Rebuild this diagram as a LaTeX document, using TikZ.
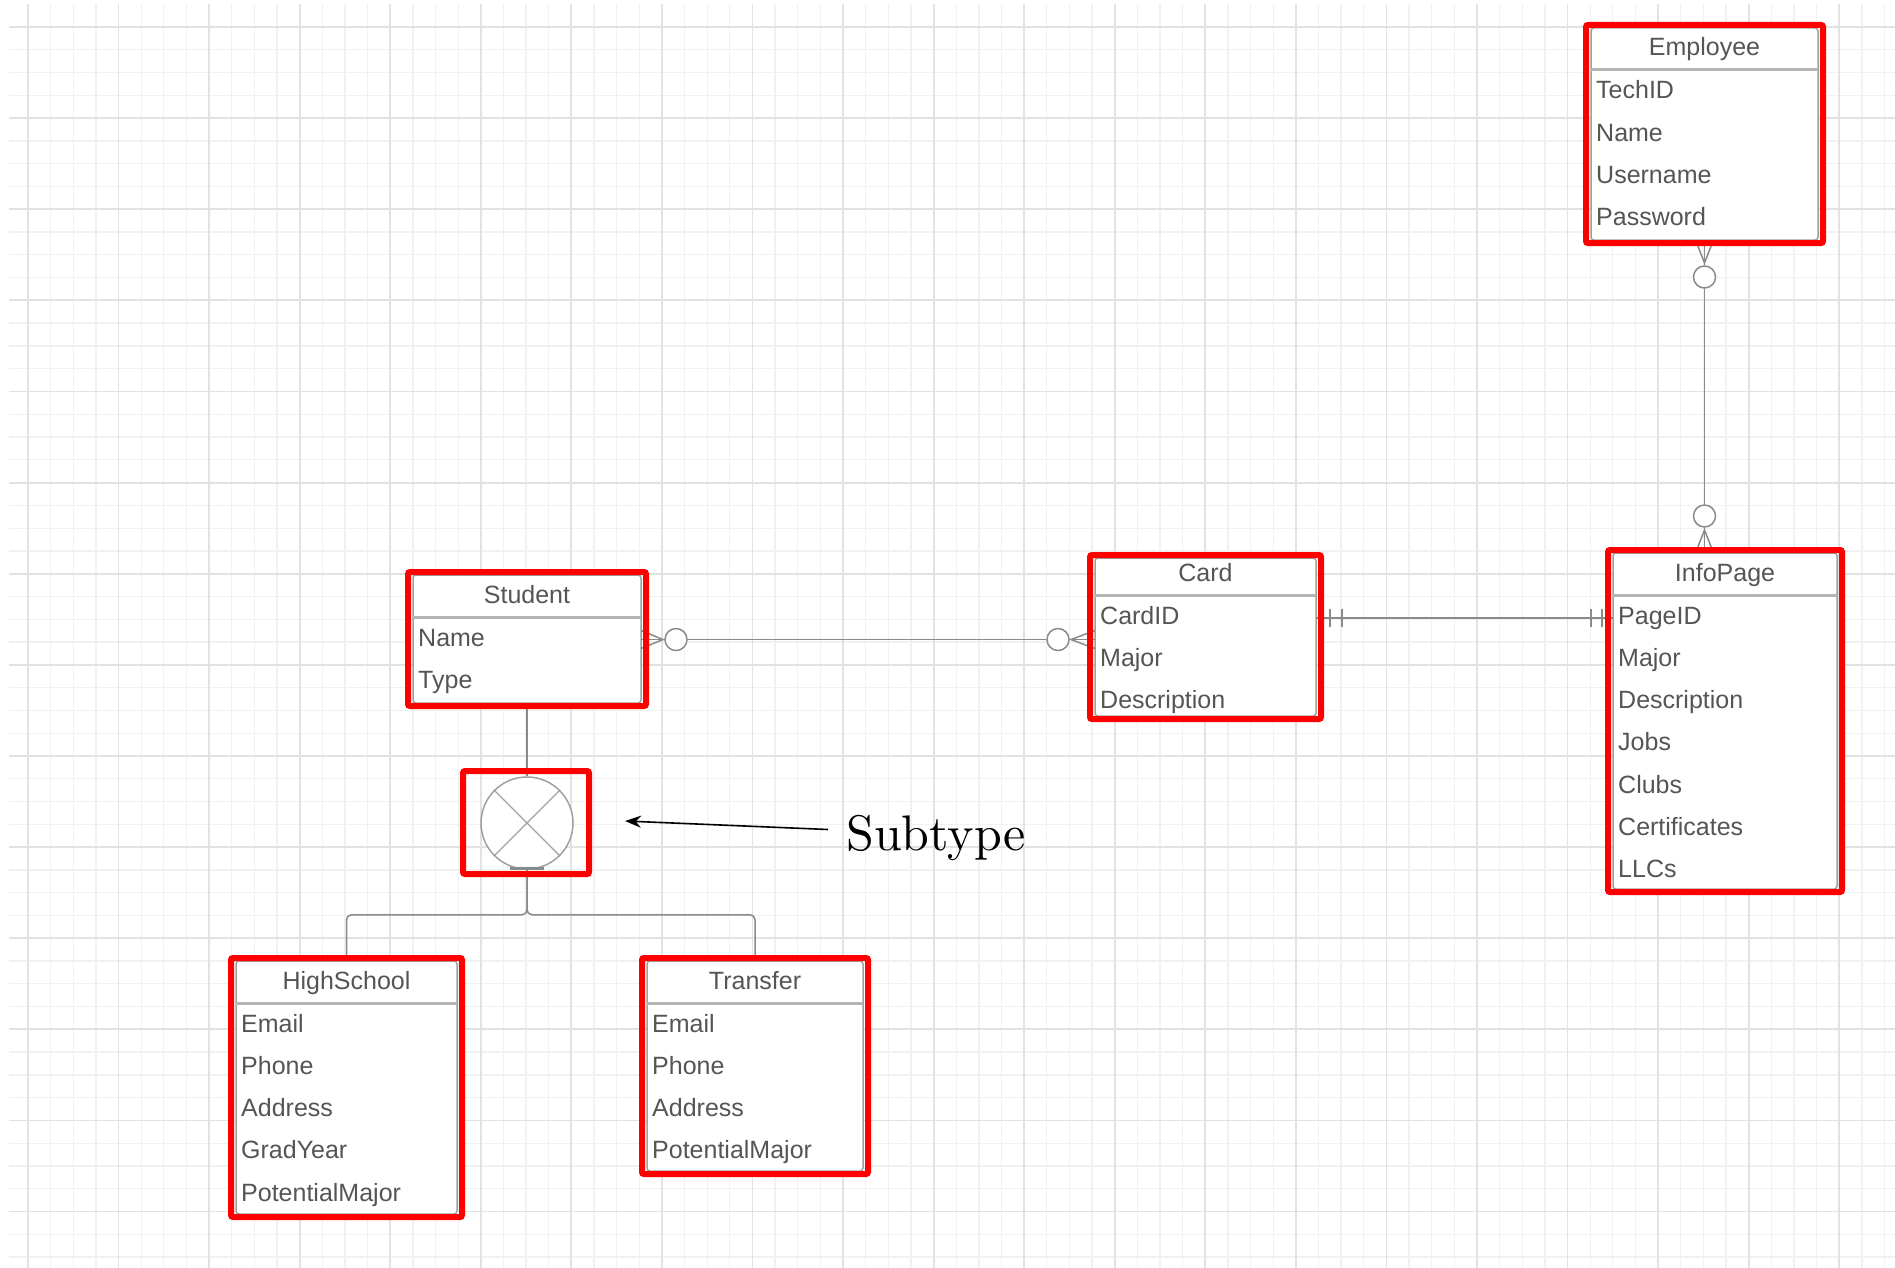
\documentclass[tikz,border=0pt]{standalone}
\usepackage{fontspec}
\newfontfamily\erfont{Liberation Sans}
\newfontfamily\subfam{lmroman10-regular.otf}
\usetikzlibrary{calc,arrows.meta}

\definecolor{txtgray}{HTML}{555555}
\definecolor{boxgray}{HTML}{A0A0A0}
\definecolor{conngray}{HTML}{8A8A8A}
\definecolor{sepgray}{HTML}{B4B4B4}
\definecolor{gridlight}{HTML}{F1F1F1}
\definecolor{griddark}{HTML}{E2E2E2}

\newcommand{\attrfont}{\erfont\fontsize{25}{30}\selectfont}
\newcommand{\subfont}{\subfam\fontsize{50}{60}\selectfont}

\newcommand{\erentity}[7][42]{%
  \node[entity, minimum width=#4, minimum height=#5] (#2) at (#3) {};
  \draw[sepline] ($(#2.north west)+(0,#1)$) -- ($(#2.north east)+(0,#1)$);
  \node[entitle] (#2-title) at ($(#2.north)+(0,#1-14)$) {#6};
  \foreach \attr [count=\i] in {#7}
    \node[attr] (#2-\i) at ($(#2.north west)+(5,{#1+29+42.3*(\i-1)})$) {\attr};
}

\tikzset{
  entity/.style={rectangle, draw=boxgray, line width=1.5pt, rounded corners=3pt,
    fill=white, anchor=north west, inner sep=0pt, outer sep=0pt},
  entitle/.style={anchor=base, inner sep=0pt, text=txtgray, font=\attrfont},
  attr/.style={anchor=base west, inner sep=0pt, text=txtgray, font=\attrfont},
  sepline/.style={draw=sepgray, line width=3pt},
  conn/.style={draw=conngray, line width=1.5pt},
  zcirc/.style={circle, draw=conngray, fill=white, line width=1.5pt,
    minimum size=22pt, inner sep=0pt},
  subcirc/.style={circle, draw=boxgray, fill=white, line width=1.5pt,
    minimum size=92pt, inner sep=0pt},
  crossline/.style={draw=boxgray, line width=1.2pt},
  barline/.style={draw=conngray, line width=3pt},
  redframe/.style={draw=red, line width=6pt, rounded corners=2pt},
  gridline/.style={draw=gridlight, line width=1.3pt},
  gridmajor/.style={draw=griddark, line width=1.8pt},
  subarrow/.style={draw=black, line width=1.6pt, -{Stealth[length=16pt,width=12pt]}},
}

\begin{document}
\begin{tikzpicture}[x=1pt, y=-1pt]
  \useasboundingbox (0,0) rectangle (1895,1268);
  \fill[white] (0,0) rectangle (1895,1268);
  \foreach \k in {1,...,84} \draw[gridline] ({5.36+22.64*\k},4) -- ({5.36+22.64*\k},1268);
  \foreach \k in {1,...,56} \draw[gridline] (9,{4.22+22.78*\k}) -- (1895,{4.22+22.78*\k});
  \foreach \k in {0,...,20} \draw[gridmajor] ({28+90.56*\k},4) -- ({28+90.56*\k},1268);
  \foreach \k in {0,...,13} \draw[gridmajor] (9,{27+91.12*\k}) -- (1895,{27+91.12*\k});

  \erentity{employee}{1591,28}{227pt}{212pt}{Employee}{TechID,Name,Username,Password}
  \erentity{infopage}{1613,553}{224pt}{336pt}{InfoPage}{PageID,Major,Description,Jobs,Clubs,Certificates,LLCs}
  \erentity[37]{card}{1095,558}{221pt}{158pt}{Card}{CardID,Major,Description}
  \erentity{student}{413,575}{228pt}{128pt}{Student}{Name,Type}
  \erentity{highschool}{236,961}{221pt}{253pt}{HighSchool}{Email,Phone,Address,GradYear,PotentialMajor}
  \erentity{transfer}{647,961}{216pt}{210pt}{Transfer}{Email,Phone,Address,PotentialMajor}

  \node[subcirc] (subtype) at (527,823) {};
  \draw[crossline] (subtype.north west) -- (subtype.south east);
  \draw[crossline] (subtype.north east) -- (subtype.south west);
  \draw[barline] ($(subtype.south)+(-17,-1)$) -- ($(subtype.south)+(17,-1)$);
  \node[anchor=base west, inner sep=0pt, font=\subfont] (subtext) at (846,850) {Subtype};
  \coordinate (subtip) at (625,821);
  \draw[subarrow] ($(subtext.west)+(-18,-8)$) -- (subtip);

  \coordinate (emp-b) at (employee.south);
  \coordinate (info-t) at (employee.south |- infopage.north);
  \node[zcirc] (emp-c) at ($(emp-b)+(0,37)$) {};
  \node[zcirc] (info-c) at ($(info-t)+(0,-37)$) {};
  \draw[conn] ($(emp-b)+(-9,0)$) -- ($(emp-b)+(0,23)$) -- ($(emp-b)+(9,0)$);
  \draw[conn] (emp-b) -- (emp-c);
  \draw[conn] ($(info-t)+(-9,0)$) -- ($(info-t)+(0,-23)$) -- ($(info-t)+(9,0)$);
  \draw[conn] (info-t) -- (info-c);
  \draw[conn] (emp-c) -- (info-c);

  \coordinate (stu-r) at ($(student.east |- student-1)+(0,2)$);
  \coordinate (card-l) at (card.west |- stu-r);
  \node[zcirc] (stu-c) at ($(stu-r)+(35,0)$) {};
  \node[zcirc] (card-c) at ($(card-l)+(-37,0)$) {};
  \draw[conn] ($(stu-r)+(0,-9)$) -- ($(stu-r)+(22,0)$) -- ($(stu-r)+(0,9)$);
  \draw[conn] (stu-r) -- (stu-c);
  \draw[conn] ($(card-l)+(0,-9)$) -- ($(card-l)+(-24,0)$) -- ($(card-l)+(0,9)$);
  \draw[conn] (card-l) -- (card-c);
  \draw[conn] (stu-c) -- (card-c);

  \coordinate (card-r) at ($(card.east |- card-1)+(0,3)$);
  \coordinate (info-l) at (infopage.west |- card-r);
  \draw[conn] (card-r) -- (info-l);
  \draw[conn] ($(card-r)+(14,-9)$) -- ($(card-r)+(14,9)$);
  \draw[conn] ($(card-r)+(26,-9)$) -- ($(card-r)+(26,9)$);
  \draw[conn] ($(info-l)+(-11,-9)$) -- ($(info-l)+(-11,9)$);
  \draw[conn] ($(info-l)+(-22,-9)$) -- ($(info-l)+(-22,9)$);

  \draw[conn] (student.south) -- (subtype.north);
  \draw[conn, rounded corners=5pt] (subtype.south) -- ++(0,45) -| (highschool.north);
  \draw[conn, rounded corners=5pt] (subtype.south) -- ++(0,45) -| (transfer.north);

  \foreach \e in {employee,infopage,card,student,highschool,transfer}
    \draw[redframe] ($(\e.north west)+(-5,-3)$) rectangle ($(\e.south east)+(5,3)$);
  \draw[redframe] ($(subtype)+(-64,-52)$) rectangle ($(subtype)+(62,51)$);
\end{tikzpicture}
\end{document}
